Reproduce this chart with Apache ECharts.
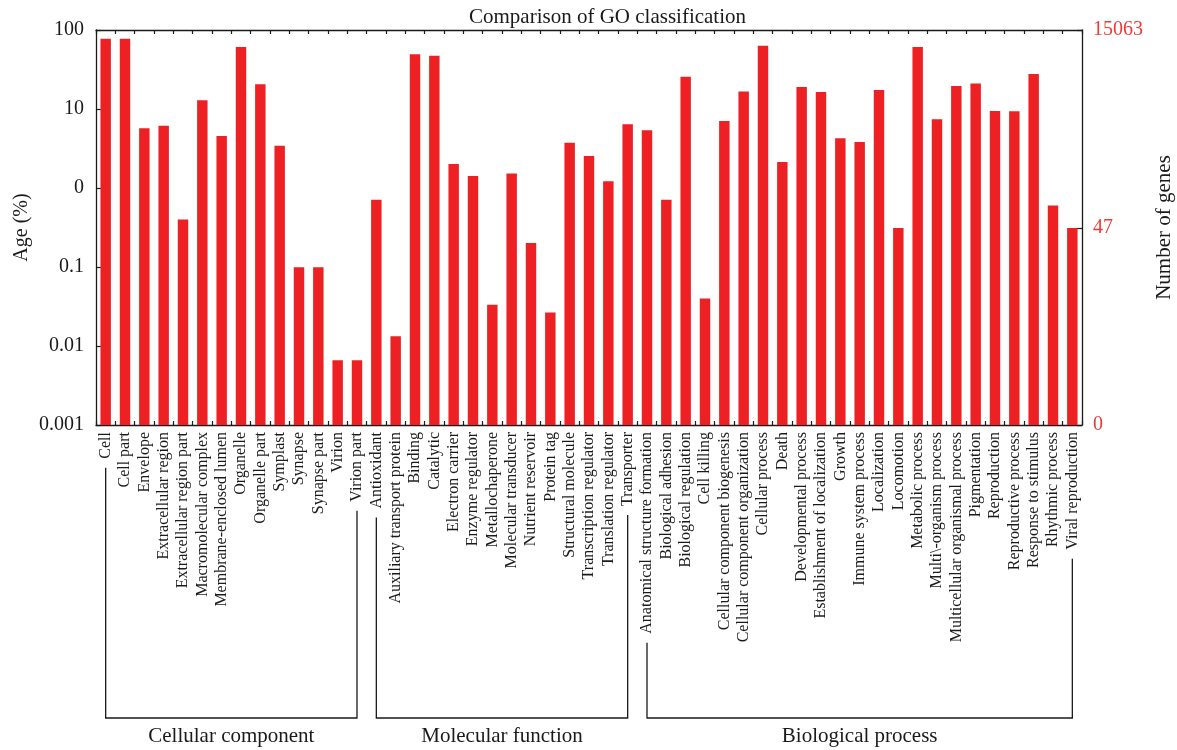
<!DOCTYPE html>
<html>
<head>
<meta charset="utf-8">
<script src="https://cdn.jsdelivr.net/npm/echarts@6/dist/echarts.min.js"></script>
<style>
  html, body { margin: 0; padding: 0; background: #fff; }
  #chart { width: 1177px; height: 750px; }
</style>
</head>
<body>
<div id="chart"></div>
<script>
// GO term names, grouped by ontology
const cellularComponent = [
  'Cell', 'Cell part', 'Envelope', 'Extracellular region', 'Extracellular region part',
  'Macromolecular complex', 'Membrane-enclosed lumen', 'Organelle', 'Organelle part',
  'Symplast', 'Synapse', 'Synapse part', 'Virion', 'Virion part'
];
const molecularFunction = [
  'Antioxidant', 'Auxiliary transport protein', 'Binding', 'Catalytic', 'Electron carrier',
  'Enzyme regulator', 'Metallochaperone', 'Molecular transducer', 'Nutrient reservoir',
  'Protein tag', 'Structural molecule', 'Transcription regulator', 'Translation regulator',
  'Transporter'
];
const biologicalProcess = [
  'Anatomical structure formation', 'Biological adhesion', 'Biological regulation',
  'Cell killing', 'Cellular component biogenesis', 'Cellular component organization',
  'Cellular process', 'Death', 'Developmental process', 'Establishment of localization',
  'Growth', 'Immune system process', 'Localization', 'Locomotion', 'Metabolic process',
  'Multi\\-organism process', 'Multicellular organismal process', 'Pigmentation',
  'Reproduction', 'Reproductive process', 'Response to stimulus', 'Rhythmic process',
  'Viral reproduction'
];

// Percentage of annotated genes per term
const ccPercent = [77.6, 77.6, 5.7, 6.15, 0.40, 12.9, 4.55, 60.9, 20.5, 3.43, 0.0996, 0.0996, 0.0066, 0.0066];
const mfPercent = [0.71, 0.0133, 49.2, 47.3, 2.01, 1.42, 0.0332, 1.53, 0.201, 0.0266, 3.75, 2.54, 1.22, 6.4];
const bpPercent = [5.37, 0.71, 25.6, 0.0398, 7.05, 16.7, 63.3, 2.13, 19.0, 16.4, 4.26, 3.82, 17.4, 0.312,
                   60.9, 7.4, 19.6, 21.1, 9.43, 9.35, 27.7, 0.60, 0.312];

const groupNames = ['Cellular component', 'Molecular function', 'Biological process'];

// Axis tick labels
const leftTickLabels = ['0.001', '0.01', '0.1', '0', '10', '100'];
const totalGenes = 15063;
const rightTickCounts = [0, 47, 15063];

const categories = [...cellularComponent, ...molecularFunction, ...biologicalProcess];
const values = [...ccPercent, ...mfPercent, ...bpPercent];
const groups = [cellularComponent, molecularFunction, biologicalProcess];

const FONT = "'Liberation Serif', 'DejaVu Serif', serif";
const BAR_RED = '#ed2024';
const LABEL_RED = '#ee3a3a';
const INK = '#1a1a1a';
const CAT_FONT_SIZE = 16;
const CAT_MARGIN = 7;

// Right axis: gene counts on the same log scale (100 % = totalGenes)
const leftMin = 0.001, leftMax = 100;
const rightMin = Math.log10(totalGenes * leftMin / 100);
const rightMax = Math.log10(totalGenes * leftMax / 100);
const rightTickPos = rightTickCounts.map(c => c === 0 ? rightMin : Math.log10(c));

const chart = echarts.init(document.getElementById('chart'));

const axisLine = { show: true, onZero: false, lineStyle: { color: INK, width: 1.3 } };
const axisTick = { show: true, inside: true, length: 4, interval: 0, lineStyle: { color: INK, width: 1.2 } };

chart.setOption({
  animation: false,
  backgroundColor: '#fff',
  title: {
    text: 'Comparison of GO classification',
    left: 464,
    top: 2,
    textStyle: { fontFamily: FONT, fontSize: 21, fontWeight: 'normal', color: INK }
  },
  grid: { left: 96, right: 95, top: 30, bottom: 325, containLabel: false, outerBoundsMode: 'none' },
  xAxis: [
    {
      type: 'category',
      position: 'bottom',
      data: categories,
      axisLine: axisLine,
      axisTick: axisTick,
      axisLabel: {
        interval: 0, rotate: 90, margin: CAT_MARGIN,
        fontFamily: FONT, fontSize: CAT_FONT_SIZE, color: INK
      }
    },
    {
      type: 'category',
      position: 'top',
      data: categories,
      axisLine: axisLine,
      axisTick: axisTick,
      axisLabel: { show: false }
    }
  ],
  yAxis: [
    {
      type: 'log',
      logBase: 10,
      min: leftMin,
      max: leftMax,
      startValue: leftMin,
      position: 'left',
      name: 'Age (%)',
      nameLocation: 'middle',
      nameRotate: 90,
      nameGap: 64,
      nameMoveOverlap: false,
      nameTextStyle: { fontFamily: FONT, fontSize: 20, color: INK },
      axisLine: axisLine,
      axisTick: { show: true, inside: true, length: 5, lineStyle: { color: INK, width: 1.2 } },
      minorTick: { show: false },
      splitLine: { show: false },
      axisLabel: {
        fontFamily: FONT, fontSize: 20, color: INK, margin: 12,
        formatter: v => leftTickLabels[Math.round(Math.log10(v)) + 3]
      }
    },
    {
      type: 'value',
      min: rightMin,
      max: rightMax,
      position: 'right',
      name: 'Number of genes',
      nameLocation: 'middle',
      nameRotate: 90,
      nameGap: 70,
      nameTextStyle: { fontFamily: FONT, fontSize: 21, color: INK },
      axisLine: axisLine,
      axisTick: { show: true, inside: true, length: 5, customValues: rightTickPos, lineStyle: { color: INK, width: 1.2 } },
      splitLine: { show: false },
      axisLabel: {
        customValues: rightTickPos,
        fontFamily: FONT, fontSize: 20, color: LABEL_RED, margin: 11,
        formatter: v => {
          let best = 0;
          rightTickPos.forEach((p, i) => { if (Math.abs(p - v) < Math.abs(rightTickPos[best] - v)) best = i; });
          return String(rightTickCounts[best]);
        }
      }
    }
  ],
  series: [
    {
      type: 'bar',
      xAxisIndex: 0,
      yAxisIndex: 0,
      data: values,
      barWidth: '54%',
      itemStyle: { color: BAR_RED }
    }
  ]
});

// Group brackets under the rotated category labels
function drawGroupBrackets() {
  const ctx = document.createElement('canvas').getContext('2d');
  ctx.font = CAT_FONT_SIZE + 'px ' + FONT;
  const axisY = chart.convertToPixel({ yAxisIndex: 0 }, leftMin);
  const bracketY = 718;
  const elements = [];
  groups.forEach((names, gi) => {
    const first = names[0], last = names[names.length - 1];
    const x0 = chart.convertToPixel({ xAxisIndex: 0 }, first);
    const x1 = chart.convertToPixel({ xAxisIndex: 0 }, last);
    const y0 = axisY + CAT_MARGIN + ctx.measureText(first).width + 9;
    const y1 = axisY + CAT_MARGIN + ctx.measureText(last).width + 9;
    elements.push({
      type: 'polyline',
      shape: { points: [[x0, y0], [x0, bracketY], [x1, bracketY], [x1, y1]] },
      style: { stroke: INK, lineWidth: 1.3, fill: null }
    });
    elements.push({
      type: 'text',
      x: (x0 + x1) / 2,
      y: bracketY + 18,
      style: {
        text: groupNames[gi], font: '21px ' + FONT, fill: INK,
        align: 'center', verticalAlign: 'middle'
      }
    });
  });
  chart.setOption({ graphic: elements });
}
drawGroupBrackets();
</script>
</body>
</html>
